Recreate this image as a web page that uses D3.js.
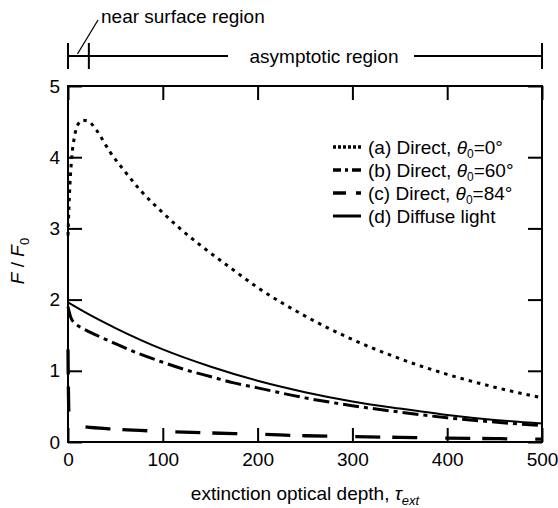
<!DOCTYPE html>
<html>
<head>
<meta charset="utf-8">
<script src="https://cdn.jsdelivr.net/npm/d3@7/dist/d3.min.js"></script>
<style>
  html, body { margin: 0; padding: 0; background: #fff; }
  svg { display: block; }
  text { font-family: "Liberation Sans", Arial, Helvetica, sans-serif; fill: #000; }
</style>
</head>
<body>
<svg id="chart" width="558" height="508"></svg>
<script>
// ---- data ----
const xTicks = [0, 100, 200, 300, 400, 500];
const yTicks = [0, 1, 2, 3, 4, 5];

const tauA  = [0, 1, 2, 4, 7, 10, 16, 22, 30, 44, 60, 76, 100, 118, 140, 171, 200, 250, 300, 350, 400, 450, 500];
const fluxA = [2.9, 3.3, 3.6, 4.0, 4.3, 4.45, 4.52, 4.5, 4.38, 4.08, 3.8, 3.54, 3.22, 3.0, 2.76, 2.45, 2.17, 1.77, 1.44, 1.17, 0.95, 0.77, 0.62];

const tauB  = [0, 3, 8, 15, 30, 50, 75, 100, 125, 150, 175, 200, 250, 300, 350, 400, 450, 500];
const fluxB = [1.9, 1.75, 1.66, 1.6, 1.5, 1.38, 1.24, 1.12, 1.01, 0.92, 0.83, 0.76, 0.62, 0.51, 0.42, 0.34, 0.28, 0.23];

const tauC  = [0, 0.3, 0.7, 1.5, 3, 10, 50, 100, 150, 200, 250, 300, 350, 400, 450, 500];
const fluxC = [1.3, 0.85, 0.5, 0.3, 0.25, 0.23, 0.18, 0.15, 0.127, 0.11, 0.088, 0.075, 0.065, 0.055, 0.047, 0.04];

const tauD  = [0, 25, 50, 100, 150, 200, 250, 300, 350, 400, 450, 500];
const fluxD = [1.96, 1.77, 1.6, 1.3, 1.06, 0.86, 0.7, 0.57, 0.47, 0.38, 0.31, 0.26];

const legendLabels = ["(a) Direct, ", "(b) Direct, ", "(c) Direct, ", "(d) Diffuse light"];
const legendAngles = ["0", "60", "84", null];

const regionTicks = [0, 22, 500];
const nearLabel = "near surface region";
const asymLabel = "asymptotic region";

// ---- layout ----
const svg = d3.select("#chart");
const W = 558, H = 508;
const m = { left: 68, right: 16, top: 86, bottom: 66 };
const x = d3.scaleLinear().domain([0, 500]).range([m.left, W - m.right]);
const y = d3.scaleLinear().domain([0, 5]).range([H - m.bottom, m.top]);
const FS = 19;
const fmt = d3.format("d");

// axes (inward ticks)
const gB = svg.append("g").attr("transform", `translate(0,${y(0)})`)
  .call(d3.axisBottom(x).tickValues(xTicks).tickSize(-14).tickPadding(10.5).tickFormat(fmt));
const gL = svg.append("g").attr("transform", `translate(${x(0)},0)`)
  .call(d3.axisLeft(y).tickValues(yTicks).tickSize(-14).tickPadding(8).tickFormat(fmt));
const gT = svg.append("g").attr("transform", `translate(0,${y(5)})`)
  .call(d3.axisTop(x).tickValues(xTicks).tickSize(-14).tickFormat(""));
const gR = svg.append("g").attr("transform", `translate(${x(500)},0)`)
  .call(d3.axisRight(y).tickValues(yTicks).tickSize(-14).tickFormat(""));
[gB, gL, gT, gR].forEach(g => {
  g.select(".domain").remove();
  g.selectAll(".tick line").attr("stroke", "#000").attr("stroke-width", 2);
  g.selectAll(".tick text").attr("font-size", FS).attr("font-family", '"Liberation Sans", Arial, sans-serif').attr("fill", "#000");
});

// frame
svg.append("rect")
  .attr("x", x(0)).attr("y", y(5))
  .attr("width", x(500) - x(0)).attr("height", y(0) - y(5))
  .attr("fill", "none").attr("stroke", "#000").attr("stroke-width", 2);

// curves
const line = d3.line().x(d => x(d[0])).y(d => y(d[1])).curve(d3.curveMonotoneX);
const series = [
  { t: tauA, f: fluxA, w: 3,   dash: "3.5,5",        ldash: "3,2" },
  { t: tauB, f: fluxB, w: 3,   dash: "16,5,4,5",     ldash: "8,4,3,4,9" },
  { t: tauC, f: fluxC, w: 3.3, dash: "25,12,25,28",  ldash: "13,10,5,100" },
  { t: tauD, f: fluxD, w: 2,   dash: null,           ldash: null }
];
series.forEach(s => {
  svg.append("path")
    .datum(s.t.map((t, i) => [t, s.f[i]]))
    .attr("d", line)
    .attr("fill", "none").attr("stroke", "#000")
    .attr("stroke-width", s.w)
    .attr("stroke-dasharray", s.dash);
});

// legend
const legY0 = 147, legDy = 23;
series.forEach((s, i) => {
  const yy = legY0 + i * legDy;
  svg.append("line")
    .attr("x1", 333).attr("x2", 361).attr("y1", yy).attr("y2", yy)
    .attr("stroke", "#000").attr("stroke-width", i === 3 ? 3 : 3.3)
    .attr("stroke-dasharray", s.ldash);
  const t = svg.append("text").attr("x", 368).attr("y", yy + 7).attr("font-size", FS);
  t.append("tspan").text(legendLabels[i]);
  if (legendAngles[i] !== null) {
    t.append("tspan").attr("font-style", "italic").text("θ");
    t.append("tspan").attr("font-size", 12).attr("dy", 4).text("0");
    t.append("tspan").attr("dy", -4).text("=" + legendAngles[i] + "°");
  }
});

// axis titles
const xt = svg.append("text").attr("x", (x(0) + x(500)) / 2).attr("y", 500)
  .attr("text-anchor", "middle").attr("font-size", FS);
xt.append("tspan").text("extinction optical depth, ");
xt.append("tspan").attr("font-style", "italic").text("τ");
xt.append("tspan").attr("font-style", "italic").attr("font-size", 13).attr("dy", 5).text("ext");

const yt = svg.append("text").attr("transform", `translate(24,261) rotate(-90)`)
  .attr("text-anchor", "middle").attr("font-size", FS);
yt.append("tspan").attr("font-style", "italic").text("F");
yt.append("tspan").text(" / ");
yt.append("tspan").attr("font-style", "italic").text("F");
yt.append("tspan").attr("font-size", 13).attr("dy", 5).text("0");

// region annotation
const bracketY = 56;
const gA = svg.append("g").attr("stroke", "#000").attr("stroke-width", 2);
regionTicks.forEach(t => {
  gA.append("line").attr("x1", x(t)).attr("x2", x(t)).attr("y1", bracketY - 13).attr("y2", bracketY + 13);
});
gA.append("line").attr("x1", x(regionTicks[0])).attr("x2", 228).attr("y1", bracketY).attr("y2", bracketY);
gA.append("line").attr("x1", 414).attr("x2", x(regionTicks[2])).attr("y1", bracketY).attr("y2", bracketY);
gA.append("line").attr("x1", x(10)).attr("y1", bracketY - 2).attr("x2", 98).attr("y2", 20).attr("stroke-width", 1.3);
svg.append("text").attr("x", 324).attr("y", 63).attr("text-anchor", "middle").attr("font-size", FS).text(asymLabel);
svg.append("text").attr("x", 101).attr("y", 23).attr("font-size", FS).text(nearLabel);
</script>
</body>
</html>
